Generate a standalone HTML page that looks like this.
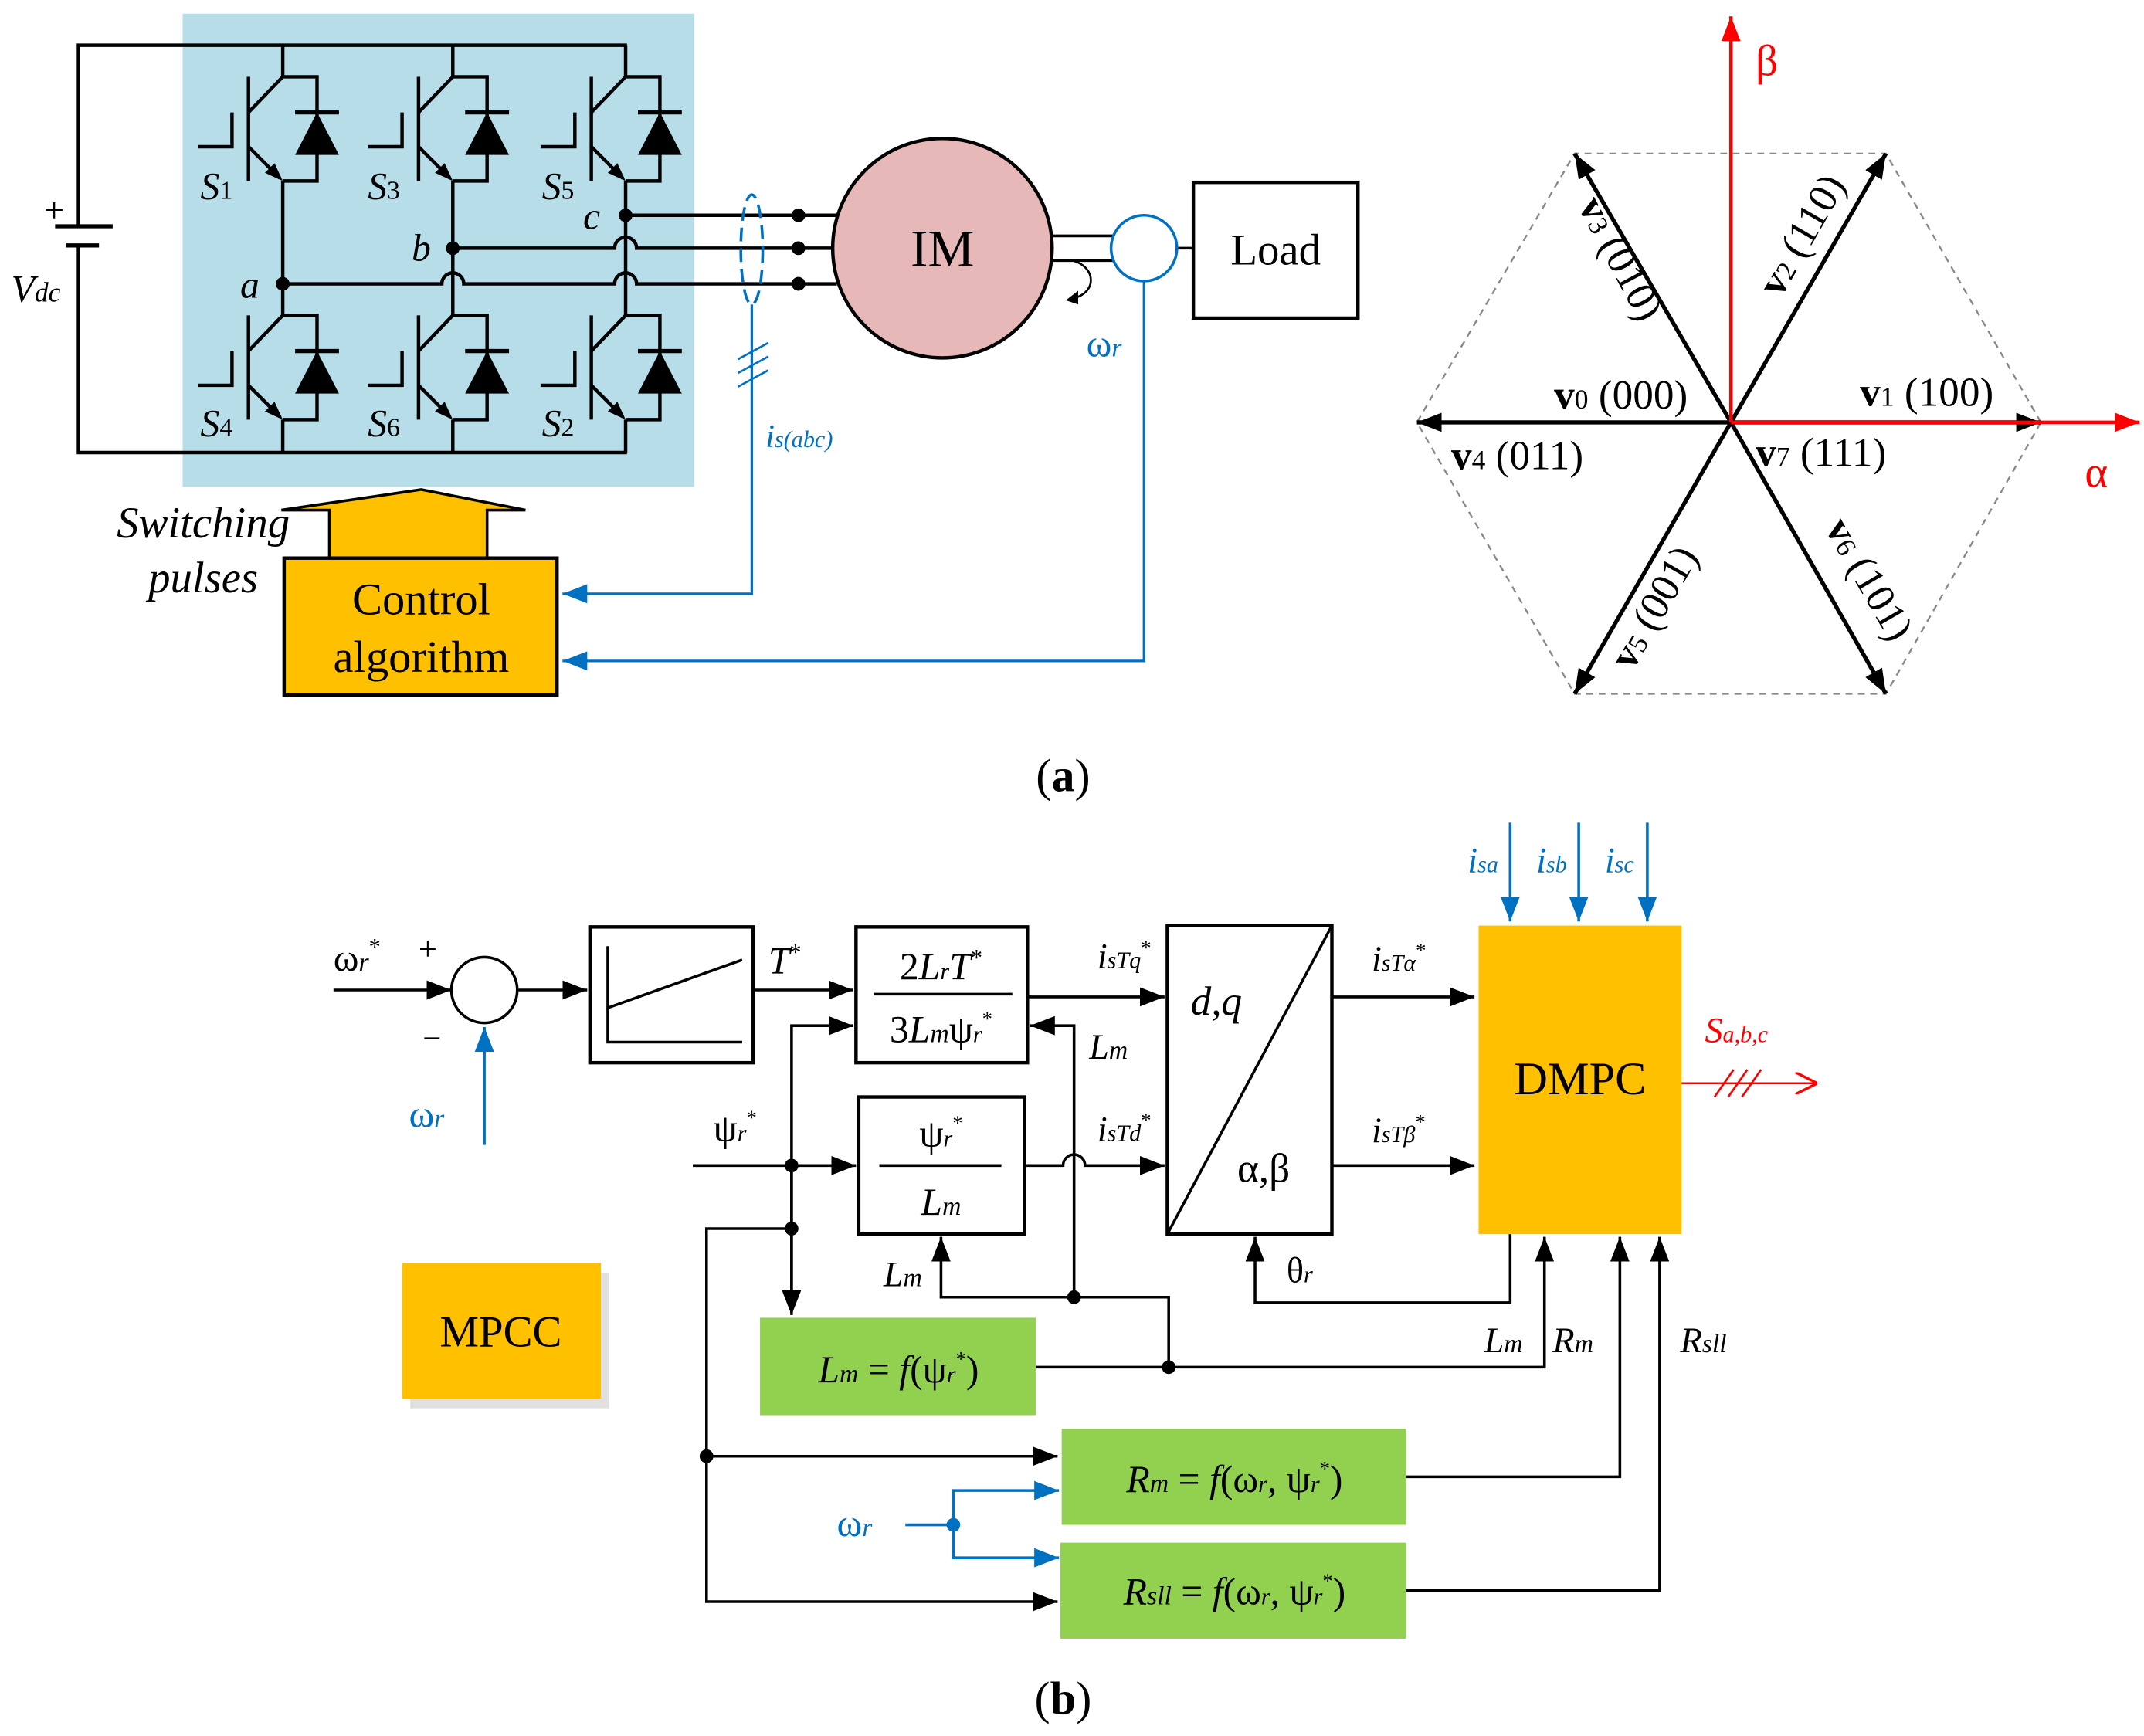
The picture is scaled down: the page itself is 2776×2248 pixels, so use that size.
<!DOCTYPE html>
<html><head><meta charset="utf-8"><style>
html,body{margin:0;padding:0;background:#fff}
svg{display:block}
text{font-family:"Liberation Serif",serif}
.i{font-style:italic}
</style></head><body>
<svg width="2776" height="2248" viewBox="0 0 1563 1266" xmlns="http://www.w3.org/2000/svg">
<defs>
<marker id="ab" markerWidth="10" markerHeight="10" refX="9" refY="5" orient="auto" markerUnits="userSpaceOnUse"><path d="M0,0 L18,5 L0,10 Z" transform="scale(0.55,1)"/></marker>
<marker id="a" viewBox="0 0 10 10" markerWidth="18" markerHeight="14" refX="10" refY="5" orient="auto" markerUnits="userSpaceOnUse" preserveAspectRatio="none"><path d="M0,0 L10,5 L0,10 Z" fill="#000"/></marker>
<marker id="ablue" viewBox="0 0 10 10" markerWidth="18" markerHeight="14" refX="10" refY="5" orient="auto" markerUnits="userSpaceOnUse" preserveAspectRatio="none"><path d="M0,0 L10,5 L0,10 Z" fill="#0070c0"/></marker>
<marker id="ared" viewBox="0 0 10 10" markerWidth="18" markerHeight="14" refX="10" refY="5" orient="auto" markerUnits="userSpaceOnUse" preserveAspectRatio="none"><path d="M0,0 L10,5 L0,10 Z" fill="#ff0000"/></marker>
<marker id="ared2" viewBox="0 0 10 10" markerWidth="16" markerHeight="16" refX="10" refY="5" orient="auto" markerUnits="userSpaceOnUse"><path d="M0,0 L10,5 L0,10" fill="none" stroke="#ff0000" stroke-width="1.2"/></marker>
<g id="dev">
<line x1="181" y1="56" x2="181" y2="132" stroke="#000" stroke-width="2.5"/>
<polyline points="144,107 169,107 169,82" fill="none" stroke="#000" stroke-width="2.5"/>
<polyline points="181,82 206,56 231,56 231,132 206,132" fill="none" stroke="#000" stroke-width="2.5"/>
<line x1="181" y1="107" x2="204" y2="130" stroke="#000" stroke-width="2.5"/>
<path d="M206,132 L193,126 L200,119 Z" fill="#000"/>
<line x1="215" y1="82" x2="247" y2="82" stroke="#000" stroke-width="3"/>
<path d="M215,113 L247,113 L231,82 Z" fill="#000"/>
</g>
</defs>

<!-- ===== (a) inverter ===== -->
<rect x="133" y="10" width="373" height="345" fill="#b6dde8"/>
<g fill="none" stroke="#000" stroke-width="2.5">
<polyline points="57,165 57,33 457,33"/>
<polyline points="57,178 57,330 457,330"/>
<line x1="206" y1="33" x2="206" y2="56"/><line x1="330" y1="33" x2="330" y2="56"/><line x1="456" y1="33" x2="456" y2="56"/>
<line x1="206" y1="132" x2="206" y2="230"/><line x1="330" y1="132" x2="330" y2="230"/><line x1="456" y1="132" x2="456" y2="230"/>
<line x1="206" y1="306" x2="206" y2="330"/><line x1="330" y1="306" x2="330" y2="330"/><line x1="456" y1="306" x2="456" y2="330"/>
<line x1="456" y1="157" x2="582" y2="157"/>
<path d="M330,181 L448,181 A8,8 0 0 1 464,181 L582,181"/>
<path d="M206,207 L322,207 A8,8 0 0 1 338,207 L448,207 A8,8 0 0 1 464,207 L582,207"/>
<line x1="582" y1="157" x2="610" y2="157"/><line x1="582" y1="181" x2="608" y2="181"/><line x1="582" y1="207" x2="610" y2="207"/>
</g>
<line x1="40" y1="165" x2="82" y2="165" stroke="#000" stroke-width="3"/>
<line x1="48" y1="179" x2="72" y2="179" stroke="#000" stroke-width="3"/>
<text x="32" y="162" font-size="26">+</text>
<use href="#dev"/><use href="#dev" x="124"/><use href="#dev" x="250"/>
<use href="#dev" y="174"/><use href="#dev" x="124" y="174"/><use href="#dev" x="250" y="174"/>
<g fill="#000"><circle cx="206" cy="207" r="5"/><circle cx="330" cy="181" r="5"/><circle cx="456" cy="157" r="5"/>
<circle cx="582" cy="157" r="5"/><circle cx="582" cy="181" r="5"/><circle cx="582" cy="207" r="5"/></g>
<g font-size="28" class="i">
<text x="146" y="145" class="i">S<tspan font-size="19" font-style="normal">1</tspan></text>
<text x="268" y="145" class="i">S<tspan font-size="19" font-style="normal">3</tspan></text>
<text x="395" y="145" class="i">S<tspan font-size="19" font-style="normal">5</tspan></text>
<text x="146" y="318" class="i">S<tspan font-size="19" font-style="normal">4</tspan></text>
<text x="268" y="318" class="i">S<tspan font-size="19" font-style="normal">6</tspan></text>
<text x="395" y="318" class="i">S<tspan font-size="19" font-style="normal">2</tspan></text>
<text x="175" y="217" class="i">a</text><text x="300" y="190" class="i">b</text><text x="425" y="167" class="i">c</text>
<text x="8" y="220" class="i">V<tspan font-size="20">dc</tspan></text>
</g>
<!-- sensor -->
<ellipse cx="548" cy="182" rx="8" ry="40" fill="none" stroke="#0070c0" stroke-width="2" stroke-dasharray="10,5"/>
<polyline points="548,222 548,433 410,433" fill="none" stroke="#0070c0" stroke-width="1.8" marker-end="url(#ablue)"/>
<g stroke="#0070c0" stroke-width="1.5"><line x1="538" y1="262" x2="560" y2="250"/><line x1="538" y1="272" x2="560" y2="260"/><line x1="538" y1="282" x2="560" y2="270"/></g>
<text x="558" y="326" font-size="24" fill="#0070c0" class="i">i<tspan font-size="17">s(abc)</tspan></text>
<!-- motor -->
<circle cx="687" cy="181" r="80" fill="#e6b8b7" stroke="#000" stroke-width="2.5"/>
<text x="687" y="194" font-size="38" text-anchor="middle">IM</text>
<g stroke="#000" stroke-width="2"><line x1="767" y1="172" x2="812" y2="172"/><line x1="767" y1="190" x2="812" y2="190"/><line x1="858" y1="181" x2="870" y2="181"/></g>
<path d="M782,190 C800,195 800,215 780,218" fill="none" stroke="#000" stroke-width="1.5"/>
<path d="M777,219 L786,212 L786,222 Z" fill="#000"/>
<circle cx="834" cy="181" r="24" fill="#fff" stroke="#0070c0" stroke-width="2"/>
<rect x="870" y="133" width="120" height="99" fill="#fff" stroke="#000" stroke-width="2.5"/>
<text x="930" y="193" font-size="32" text-anchor="middle">Load</text>
<polyline points="834,205 834,482 410,482" fill="none" stroke="#0070c0" stroke-width="1.8" marker-end="url(#ablue)"/>
<text x="792" y="260" font-size="28" fill="#0070c0">ω<tspan font-size="19" class="i">r</tspan></text>
<!-- control -->
<path d="M240,407 L240,372 L205,372 L307,357 L383,372 L355,372 L355,407 Z" fill="#ffc000" stroke="#000" stroke-width="2"/>
<rect x="207" y="407" width="199" height="100" fill="#ffc000" stroke="#000" stroke-width="2.5"/>
<text x="307" y="448" font-size="33" text-anchor="middle">Control</text>
<text x="307" y="490" font-size="33" text-anchor="middle">algorithm</text>
<text x="148" y="392" font-size="32" text-anchor="middle" class="i">Switching</text>
<text x="148" y="432" font-size="32" text-anchor="middle" class="i">pulses</text>

<!-- hexagon -->
<polygon points="1488,308 1375,112 1148,112 1033,308 1148,506 1375,506" fill="none" stroke="#888" stroke-width="1.3" stroke-dasharray="5,4"/>
<g stroke="#000" stroke-width="3" marker-end="url(#a)">
<line x1="1262" y1="308" x2="1488" y2="308"/><line x1="1262" y1="308" x2="1375" y2="112"/><line x1="1262" y1="308" x2="1148" y2="112"/>
<line x1="1262" y1="308" x2="1033" y2="308"/><line x1="1262" y1="308" x2="1148" y2="506"/><line x1="1262" y1="308" x2="1375" y2="506"/>
</g>
<g stroke="#ff0000" stroke-width="2.5" marker-end="url(#ared)">
<line x1="1262" y1="308" x2="1560" y2="308"/><line x1="1262" y1="308" x2="1262" y2="12"/>
</g>
<text x="1280" y="55" font-size="32" fill="#ff0000">β</text>
<text x="1520" y="355" font-size="32" fill="#ff0000">α</text>
<g font-size="30">
<text x="1133" y="298"><tspan font-weight="bold">v</tspan><tspan font-size="20">0</tspan> (000)</text>
<text x="1356" y="296"><tspan font-weight="bold">v</tspan><tspan font-size="20">1</tspan> (100)</text>
<text x="1058" y="342"><tspan font-weight="bold">v</tspan><tspan font-size="20">4</tspan> (011)</text>
<text x="1280" y="340"><tspan font-weight="bold">v</tspan><tspan font-size="20">7</tspan> (111)</text>
<text transform="translate(1150,150) rotate(62)"><tspan font-weight="bold">v</tspan><tspan font-size="20">3</tspan> (010)</text>
<text transform="translate(1298,218) rotate(-60)"><tspan font-weight="bold">v</tspan><tspan font-size="20">2</tspan> (110)</text>
<text transform="translate(1190,490) rotate(-60)"><tspan font-weight="bold">v</tspan><tspan font-size="20">5</tspan> (001)</text>
<text transform="translate(1330,385) rotate(60)"><tspan font-weight="bold">v</tspan><tspan font-size="20">6</tspan> (101)</text>
</g>
<text x="775" y="577" font-size="34" text-anchor="middle">(<tspan font-weight="bold">a</tspan>)</text>

<!-- ===== (b) ===== -->
<g fill="none" stroke="#000" stroke-width="2">
<line x1="243" y1="722" x2="329" y2="722" marker-end="url(#a)"/>
<line x1="378" y1="722" x2="428" y2="722" marker-end="url(#a)"/>
<line x1="549" y1="722" x2="622" y2="722" marker-end="url(#a)"/>
<line x1="749" y1="727" x2="849" y2="727" marker-end="url(#a)"/>
<polyline points="783,946 783,748 751,748" marker-end="url(#a)"/>
<line x1="505" y1="850" x2="624" y2="850" marker-end="url(#a)"/>
<polyline points="577,945 577,748 622,748" marker-end="url(#a)"/>
<line x1="577" y1="850" x2="577" y2="959" marker-end="url(#a)"/>
<path d="M747,850 L775,850 A8,8 0 0 1 791,850 L849,850" marker-end="url(#a)"/>
<polyline points="577,896 515,896 515,1168 771,1168" marker-end="url(#a)"/>
<line x1="515" y1="1062" x2="771" y2="1062" marker-end="url(#a)"/>
<polyline points="852,997 852,946 686,946 686,902" marker-end="url(#a)"/>
<polyline points="1101,900 1101,950 915,950 915,902" marker-end="url(#a)"/>
<polyline points="755,997 1126,997 1126,902" marker-end="url(#a)"/>
<polyline points="1025,1077 1181,1077 1181,902" marker-end="url(#a)"/>
<polyline points="1025,1160 1210,1160 1210,902" marker-end="url(#a)"/>
<line x1="971" y1="727" x2="1075" y2="727" marker-end="url(#a)"/>
<line x1="971" y1="850" x2="1075" y2="850" marker-end="url(#a)"/>
</g>
<g fill="#000"><circle cx="577" cy="850" r="5"/><circle cx="577" cy="896" r="5"/><circle cx="515" cy="1062" r="5"/><circle cx="783" cy="946" r="5"/><circle cx="852" cy="997" r="5"/></g>
<circle cx="353" cy="722" r="24" fill="#fff" stroke="#000" stroke-width="2"/>
<text x="305" y="700" font-size="24">+</text><text x="308" y="765" font-size="24">−</text>
<line x1="353" y1="835" x2="353" y2="749" stroke="#0070c0" stroke-width="2" marker-end="url(#ablue)"/>
<text x="298" y="822" font-size="28" fill="#0070c0">ω<tspan font-size="19" class="i">r</tspan></text>
<text x="243" y="708" font-size="28">ω<tspan font-size="19" class="i">r</tspan><tspan font-size="17" dy="-12">*</tspan></text>
<rect x="430" y="676" width="119" height="99" fill="#fff" stroke="#000" stroke-width="2.5"/>
<polyline points="443,690 443,760 541,760" fill="none" stroke="#000" stroke-width="2"/>
<line x1="443" y1="735" x2="541" y2="700" stroke="#000" stroke-width="2"/>
<text x="560" y="710" font-size="28" class="i">T<tspan font-size="17" dy="-10" font-style="normal">*</tspan></text>
<rect x="624" y="676" width="125" height="99" fill="#fff" stroke="#000" stroke-width="2.5"/>
<line x1="637" y1="725" x2="738" y2="725" stroke="#000" stroke-width="2"/>
<text x="686" y="714" font-size="28" text-anchor="middle">2<tspan class="i">L<tspan font-size="17">r</tspan>T</tspan><tspan font-size="17" dy="-10">*</tspan></text>
<text x="686" y="760" font-size="28" text-anchor="middle">3<tspan class="i">L<tspan font-size="19">m</tspan></tspan>ψ<tspan font-size="17" class="i">r</tspan><tspan font-size="15" dy="-12">*</tspan></text>
<text x="794" y="772" font-size="26" class="i">L<tspan font-size="19">m</tspan></text>
<text x="800" y="706" font-size="26" class="i">i<tspan font-size="17">sTq</tspan><tspan font-size="15" dy="-10" font-style="normal">*</tspan></text>
<text x="520" y="832" font-size="28">ψ<tspan font-size="17" class="i">r</tspan><tspan font-size="15" dy="-12">*</tspan></text>
<rect x="626" y="800" width="121" height="100" fill="#fff" stroke="#000" stroke-width="2.5"/>
<line x1="641" y1="850" x2="730" y2="850" stroke="#000" stroke-width="2"/>
<text x="686" y="836" font-size="28" text-anchor="middle">ψ<tspan font-size="17" class="i">r</tspan><tspan font-size="15" dy="-12">*</tspan></text>
<text x="686" y="886" font-size="28" text-anchor="middle" class="i">L<tspan font-size="19">m</tspan></text>
<text x="800" y="832" font-size="26" class="i">i<tspan font-size="17">sTd</tspan><tspan font-size="15" dy="-10" font-style="normal">*</tspan></text>
<rect x="851" y="675" width="120" height="225" fill="#fff" stroke="#000" stroke-width="2.5"/>
<line x1="851" y1="900" x2="971" y2="675" stroke="#000" stroke-width="2"/>
<text x="868" y="740" font-size="30" class="i">d,q</text>
<text x="902" y="862" font-size="30">α,β</text>
<text x="938" y="935" font-size="26">θ<tspan font-size="17" class="i">r</tspan></text>
<text x="644" y="938" font-size="26" class="i">L<tspan font-size="19">m</tspan></text>
<text x="1000" y="708" font-size="26" class="i">i<tspan font-size="17">sTα</tspan><tspan font-size="15" dy="-10" font-style="normal">*</tspan></text>
<text x="1000" y="833" font-size="26" class="i">i<tspan font-size="17">sTβ</tspan><tspan font-size="15" dy="-10" font-style="normal">*</tspan></text>
<rect x="1078" y="675" width="148" height="225" fill="#ffc000"/>
<text x="1152" y="798" font-size="34" text-anchor="middle">DMPC</text>
<g stroke="#0070c0" stroke-width="2" marker-end="url(#ablue)">
<line x1="1101" y1="600" x2="1101" y2="672"/><line x1="1151" y1="600" x2="1151" y2="672"/><line x1="1201" y1="600" x2="1201" y2="672"/>
</g>
<g font-size="26" fill="#0070c0" class="i">
<text x="1070" y="636">i<tspan font-size="17">sa</tspan></text><text x="1120" y="636">i<tspan font-size="17">sb</tspan></text><text x="1170" y="636">i<tspan font-size="17">sc</tspan></text>
</g>
<line x1="1226" y1="790" x2="1325" y2="790" stroke="#ff0000" stroke-width="1.5" marker-end="url(#ared2)"/>
<g stroke="#ff0000" stroke-width="1.5"><line x1="1250" y1="800" x2="1264" y2="780"/><line x1="1260" y1="800" x2="1274" y2="780"/><line x1="1270" y1="800" x2="1284" y2="780"/></g>
<text x="1243" y="760" font-size="26" fill="#ff0000" class="i">S<tspan font-size="17">a,b,c</tspan></text>
<rect x="554" y="961" width="201" height="71" fill="#92d050"/>
<text x="655" y="1008" font-size="28" text-anchor="middle"><tspan class="i">L<tspan font-size="19">m</tspan></tspan> = <tspan class="i">f</tspan>(ψ<tspan font-size="17" class="i">r</tspan><tspan font-size="15" dy="-12">*</tspan><tspan dy="12">)</tspan></text>
<text x="1082" y="986" font-size="26" class="i">L<tspan font-size="19">m</tspan></text>
<text x="1132" y="986" font-size="26" class="i">R<tspan font-size="19">m</tspan></text>
<text x="1225" y="986" font-size="26" class="i">R<tspan font-size="19">sll</tspan></text>
<rect x="774" y="1042" width="251" height="70" fill="#92d050"/>
<text x="900" y="1088" font-size="28" text-anchor="middle"><tspan class="i">R<tspan font-size="19">m</tspan></tspan> = <tspan class="i">f</tspan>(ω<tspan font-size="17" class="i">r</tspan>, ψ<tspan font-size="17" class="i">r</tspan><tspan font-size="15" dy="-12">*</tspan><tspan dy="12">)</tspan></text>
<rect x="773" y="1125" width="252" height="70" fill="#92d050"/>
<text x="900" y="1170" font-size="28" text-anchor="middle"><tspan class="i">R<tspan font-size="19">sll</tspan></tspan> = <tspan class="i">f</tspan>(ω<tspan font-size="17" class="i">r</tspan>, ψ<tspan font-size="17" class="i">r</tspan><tspan font-size="15" dy="-12">*</tspan><tspan dy="12">)</tspan></text>
<g fill="none" stroke="#0070c0" stroke-width="2">
<line x1="660" y1="1112" x2="695" y2="1112"/>
<polyline points="695,1112 695,1087 772,1087" marker-end="url(#ablue)"/>
<polyline points="695,1112 695,1136 772,1136" marker-end="url(#ablue)"/>
</g>
<circle cx="695" cy="1112" r="5" fill="#0070c0"/>
<text x="610" y="1120" font-size="28" fill="#0070c0">ω<tspan font-size="19" class="i">r</tspan></text>
<rect x="299" y="928" width="145" height="99" fill="#ccc" opacity="0.6"/>
<rect x="293" y="921" width="145" height="99" fill="#ffc000"/>
<text x="365" y="982" font-size="32" text-anchor="middle">MPCC</text>
<text x="775" y="1250" font-size="34" text-anchor="middle">(<tspan font-weight="bold">b</tspan>)</text>
</svg>
</body></html>
